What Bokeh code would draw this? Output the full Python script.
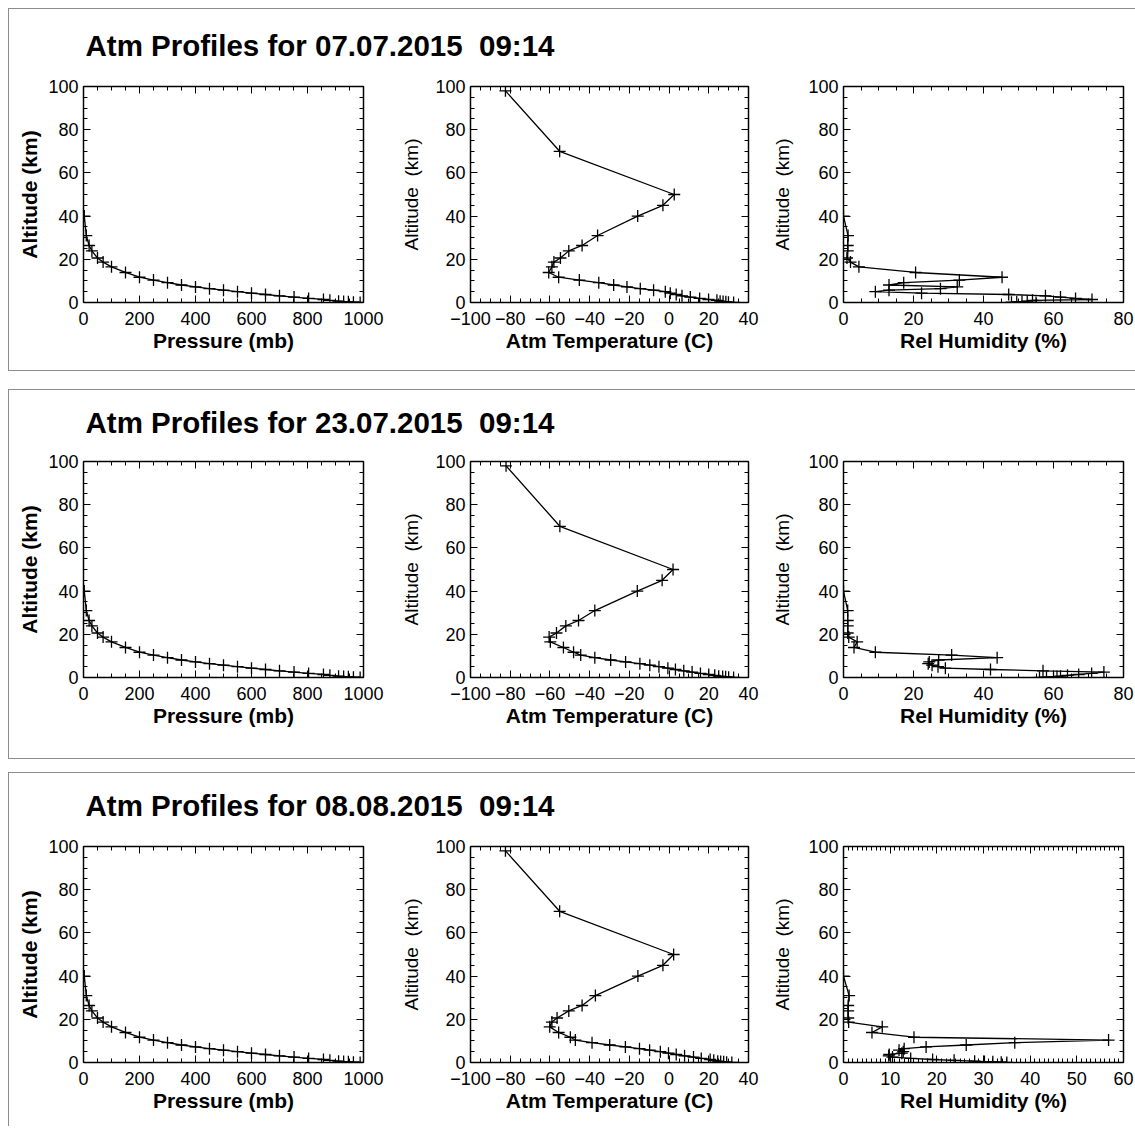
from bokeh.plotting import figure
from bokeh.models import Range1d, LinearAxis, SingleIntervalTicker, Spacer
from bokeh.layouts import row, column
from bokeh.embed import file_html
from bokeh.resources import INLINE
from bokeh.core.properties import value

# ---------------- data ----------------
DATES = ["07.07.2015", "23.07.2015", "08.08.2015"]
TIME = "09:14"

# altitude of each profile level (km), surface -> top
ALT_KM = [0.0, 0.15, 0.3, 0.45, 0.6, 1.0, 1.4, 1.9, 2.5, 3.1, 3.7, 4.3, 5.0, 5.7,
          6.4, 7.2, 8.1, 9.2, 10.4, 11.7, 13.9, 16.5, 18.7, 20.6, 23.9, 26.4,
          31.0, 40.0, 45.0, 50.0, 70.0, 98.0]

# pressure (mb) for the lower 28 levels (up to 40 km)
PRES_MB = [988, 964, 946, 929, 911, 880, 857, 804, 752, 700, 650, 600, 550, 500,
           450, 400, 350, 300, 250, 200, 150, 100, 70, 50, 30, 20, 10, 2.9]

# temperature (C), all 32 levels
TEMP_0707 = [32.5, 29.9, 28.6, 27.2, 25.7, 24.1, 19.9, 15.4, 10.7, 6.5, 3.6, 0.6,
             -1.9, -7.8, -14.5, -21.2, -27.9, -35.4, -45.2, -55.6, -60.6, -59.0,
             -58.0, -54.7, -50.5, -43.8, -36.0, -15.8, -3.1, 2.6, -55.1, -82.4]
TEMP_2307 = [32.5, 30.0, 28.5, 27.0, 25.0, 23.0, 20.0, 15.8, 11.6, 7.4, 3.2, -0.6,
             -5.1, -9.7, -14.7, -21.9, -29.4, -37.4, -44.5, -48.1, -53.2, -59.8,
             -60.4, -56.7, -52.0, -45.6, -37.4, -16.0, -3.5, 2.0, -55.0, -82.1]
TEMP_0808 = [31.6, 29.0, 27.5, 26.0, 24.5, 22.5, 20.7, 16.2, 12.3, 7.8, 3.6, -0.3,
             -4.4, -9.8, -14.9, -22.0, -29.9, -38.8, -47.2, -49.7, -55.6, -60.1,
             -59.0, -56.4, -50.5, -43.8, -37.1, -15.7, -3.1, 2.3, -55.1, -82.4]

# relative humidity (%), lower 28 levels
RH_0707 = [55, 48, 49.5, 51, 52.5, 54, 71, 66.3, 62, 57.7, 47.2, 22.3, 9.1, 13.0,
           27.7, 32.5, 13.0, 17.2, 33.1, 45.3, 20.6, 4.4, 2.0, 1.0, 1.2, 1.2, 1.3, 0.0]
RH_2307 = [56, 58, 60, 61, 62, 64, 67.2, 70.9, 74.4, 57.0, 42.0, 29.1, 27.0, 25.3,
           24.2, 24.5, 27.2, 43.9, 30.9, 9.1, 3.0, 3.9, 1.5, 1.2, 1.2, 1.2, 1.2, 0.0]
RH_0808 = [35, 33.8, 32, 30.2, 28.1, 23.7, 19.1, 14.4, 10.5, 9.7, 9.8, 12.5, 12.8,
           11.9, 13.0, 17.7, 26.3, 36.7, 56.8, 15.1, 6.1, 8.3, 1.1, 1.0, 1.0, 1.0, 1.2, 0.0]

PRES_RANGE = (0, 1000)
TEMP_RANGE = (-100, 40)
RH_RANGES = [(0, 80), (0, 80), (0, 60)]
RH_TICKS = [(20, 4), (20, 4), (10, 10)]
ALT_RANGE = (0, 100)
TEMP_LABELS = {-100: "\u2212100", -80: "\u221280", -60: "\u221260", -40: "\u221240",
               -20: "\u221220", 0: "0", 20: "20", 40: "40"}

# ---------------- style / layout ----------------
FONT = "Liberation Sans"
PAGE_PAD = 8
ROW_W = 1126
TITLE_H = [67, 61, 63]
TITLE_Y = [36, 32, 32]
BOTTOM = [68, 81, 64]
GAPS = [18, 13]
FRAME_H = 216
TOP = 10
BORDER = "1px solid #8c8c8c"


def style_axis(ax, interval, nminor, show_labels=True, label=None, bold=True,
               lab_standoff=8, axis_standoff=3, label_size="21px"):
    ax.ticker = SingleIntervalTicker(interval=interval, num_minor_ticks=nminor)
    ax.axis_line_color = "black"
    ax.axis_line_width = 1.5
    ax.major_tick_in = 7
    ax.major_tick_out = 0
    ax.minor_tick_in = 4
    ax.minor_tick_out = 0
    ax.major_tick_line_color = "black"
    ax.minor_tick_line_color = "black"
    ax.major_tick_line_width = 1
    ax.minor_tick_line_width = 1
    ax.major_label_text_font = FONT
    if show_labels:
        ax.major_label_text_color = "black"
        ax.major_label_text_font_size = "18px"
        ax.major_label_standoff = lab_standoff
    else:
        # mirror axis: ticks only, labels not painted
        ax.major_label_text_color = None
        ax.major_label_text_font_size = "1px"
        ax.major_label_standoff = 0
    if label:
        ax.axis_label = label
        ax.axis_label_text_font = FONT
        ax.axis_label_text_font_size = label_size
        ax.axis_label_text_font_style = "bold" if bold else "normal"
        ax.axis_label_text_color = "black"
        ax.axis_label_standoff = axis_standoff


def subplot(x, y, xr, xint, xminor, xlabel, ylabel, ybold, left, right, bottom,
            frame_w, ystandoff, overrides=None):
    p = figure(frame_width=frame_w, frame_height=FRAME_H,
               x_range=Range1d(*xr), y_range=Range1d(*ALT_RANGE),
               output_backend="svg", toolbar_location=None,
               x_axis_location=None, y_axis_location=None,
               min_border_left=left, min_border_right=right,
               min_border_top=TOP, min_border_bottom=bottom)
    p.title = None
    p.outline_line_color = None
    p.background_fill_color = "white"
    p.border_fill_color = "white"
    p.xgrid.visible = False
    p.ygrid.visible = False

    xb = LinearAxis()
    style_axis(xb, xint, xminor, True, xlabel, True, lab_standoff=9, axis_standoff=1)
    if overrides:
        xb.major_label_overrides = overrides
    p.add_layout(xb, "below")
    xa = LinearAxis()
    style_axis(xa, xint, xminor, False)
    p.add_layout(xa, "above")
    yl = LinearAxis()
    style_axis(yl, 20, 4, True, ylabel, ybold, lab_standoff=5, axis_standoff=ystandoff,
               label_size="21px" if ybold else "19px")
    p.add_layout(yl, "left")
    yr = LinearAxis()
    style_axis(yr, 20, 4, False)
    p.add_layout(yr, "right")

    p.line(x, y, line_color="black", line_width=1.3)
    p.scatter(x, y, marker="cross", size=12, line_color="black", line_width=1.3)
    return p


def title_fig(i):
    h = TITLE_H[i]
    t = figure(width=ROW_W, height=h, x_range=Range1d(0, ROW_W), y_range=Range1d(h, 0),
               output_backend="svg", toolbar_location=None,
               x_axis_location=None, y_axis_location=None, min_border=0)
    t.title = None
    t.outline_line_color = None
    t.xgrid.visible = False
    t.ygrid.visible = False
    t.text(x=[76], y=[TITLE_Y[i]],
           text=["Atm Profiles for %s\u00a0 %s" % (DATES[i], TIME)],
           text_font=value(FONT), text_font_size="29.5px", text_font_style="bold",
           text_baseline="alphabetic", text_align="left", text_color="black")
    return t


temps = [TEMP_0707, TEMP_2307, TEMP_0808]
rhs = [RH_0707, RH_2307, RH_0808]
n_low = len(PRES_MB)
ALT_LABEL_2 = "Altitude\u00a0 (km)"

panels = []
for i in range(3):
    f1 = subplot(PRES_MB, ALT_KM[:n_low], PRES_RANGE, 200, 4, "Pressure (mb)",
                 "Altitude (km)", True, 74, 22, BOTTOM[i], 280, 4)
    f2 = subplot(temps[i], ALT_KM, TEMP_RANGE, 20, 4, "Atm Temperature (C)",
                 ALT_LABEL_2, False, 85, 15, BOTTOM[i], 278, 10, TEMP_LABELS)
    f3 = subplot(rhs[i], ALT_KM[:n_low], RH_RANGES[i], RH_TICKS[i][0], RH_TICKS[i][1],
                 "Rel Humidity (%)", ALT_LABEL_2, False, 80, 12, BOTTOM[i], 280, 12)
    styles = {"border-left": BORDER, "border-top": BORDER}
    if i < 2:
        styles["border-bottom"] = BORDER
    panels.append(column(title_fig(i), row(f1, f2, f3), styles=styles))

body = column(Spacer(height=PAGE_PAD), panels[0], Spacer(height=GAPS[0]), panels[1],
              Spacer(height=GAPS[1]), panels[2])
layout = row(Spacer(width=PAGE_PAD), body)

open("out.html", "w").write(file_html(layout, INLINE))
